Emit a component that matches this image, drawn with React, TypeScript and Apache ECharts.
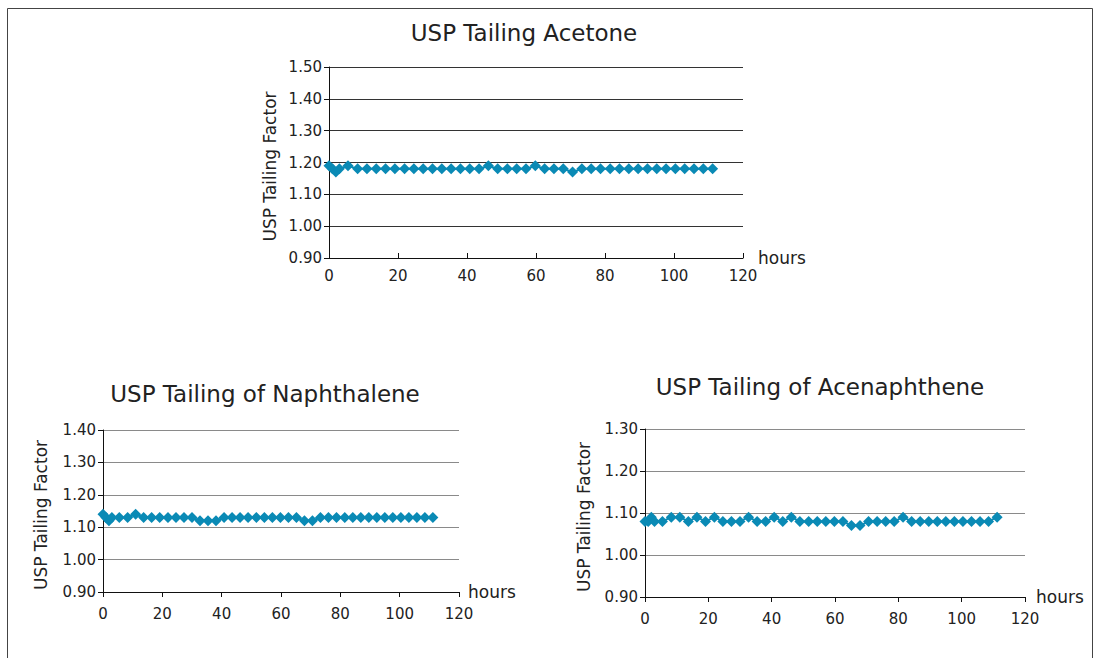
import React, { useEffect, useRef } from "react";
import * as echarts from "echarts";

const hours = [0, 1, 2, 3, 5.5, 8.3, 11.0, 13.7, 16.4, 19.1, 21.9, 24.6, 27.3, 30.0, 32.7, 35.4, 38.1, 40.8, 43.5, 46.2, 48.9, 51.7, 54.4, 57.1, 59.8, 62.5, 65.2, 67.9, 70.6, 73.3, 76.0, 78.7, 81.5, 84.2, 86.9, 89.6, 92.3, 95.0, 97.7, 100.4, 103.1, 105.8, 108.5, 111.2];

const acetone = [1.19, 1.18, 1.17, 1.18, 1.19,
  1.18, 1.18, 1.18, 1.18, 1.18, 1.18, 1.18, 1.18, 1.18, 1.18, 1.18, 1.18, 1.18, 1.18,
  1.19, 1.18, 1.18, 1.18, 1.18, 1.19, 1.18, 1.18, 1.18, 1.17,
  1.18, 1.18, 1.18, 1.18, 1.18, 1.18, 1.18, 1.18, 1.18, 1.18, 1.18, 1.18, 1.18, 1.18, 1.18];

const naphthalene = [1.14, 1.13, 1.12, 1.13, 1.13,
  1.13, 1.14, 1.13, 1.13, 1.13, 1.13, 1.13, 1.13, 1.13, 1.12, 1.12, 1.12,
  1.13, 1.13, 1.13, 1.13, 1.13, 1.13, 1.13, 1.13, 1.13, 1.13, 1.12, 1.12,
  1.13, 1.13, 1.13, 1.13, 1.13, 1.13, 1.13, 1.13, 1.13, 1.13, 1.13, 1.13, 1.13, 1.13, 1.13];

const acenaphthene = [1.08, 1.08, 1.09, 1.08, 1.08,
  1.09, 1.09, 1.08, 1.09, 1.08, 1.09, 1.08, 1.08, 1.08, 1.09, 1.08, 1.08, 1.09, 1.08, 1.09,
  1.08, 1.08, 1.08, 1.08, 1.08, 1.08, 1.07, 1.07, 1.08, 1.08, 1.08, 1.08, 1.09,
  1.08, 1.08, 1.08, 1.08, 1.08, 1.08, 1.08, 1.08, 1.08, 1.08, 1.09];

const titles = ["USP Tailing Acetone", "USP Tailing of Naphthalene", "USP Tailing of Acenaphthene"];
const yName = "USP Tailing Factor";
const xName = "hours";

const FONT = "'DejaVu Sans', Verdana, sans-serif";
const TXT = "#222";
const MARK = "#0a8ab5";

export default function App() {
  const ref = useRef<HTMLDivElement>(null);
  useEffect(() => {
    if (!ref.current) return;
    const chart = echarts.init(ref.current, null, { renderer: "svg" });
    const grids = [
      { left: 329, top: 67, width: 414, height: 191 },
      { left: 103, top: 430, width: 356, height: 162 },
      { left: 645, top: 429, width: 380, height: 168 },
    ];
    const yRanges = [[0.9, 1.5], [0.9, 1.4], [0.9, 1.3]];
    const splitColors = ["#333333", "#8a8a8a", "#8a8a8a"];
    const nameGaps = [51, 54, 53];
    const xNameGaps = [15, 9, 11];
    const xNamePadTop = [4, 12, 6];
    const xLabelMargins = [10, 14, 14];
    const xTickInside = [true, false, false];
    const seriesData = [acetone, naphthalene, acenaphthene];
    const titleCfg = [
      { x: 524, y: 21 },
      { x: 265, y: 382 },
      { x: 820, y: 375 },
    ];
    const option: any = {
      animation: false,
      textStyle: { fontFamily: FONT },
      title: titles.map((t, i) => ({
        text: t,
        left: titleCfg[i].x,
        top: titleCfg[i].y,
        textAlign: "center",
        padding: 0,
        textStyle: { fontFamily: FONT, fontSize: 23, fontWeight: "normal", color: TXT },
      })),
      grid: grids.map((g) => ({ ...g, containLabel: false })),
      xAxis: grids.map((_, i) => ({
        type: "value",
        gridIndex: i,
        min: 0,
        max: 120,
        interval: 20,
        name: xName,
        nameLocation: "end",
        nameGap: xNameGaps[i],
        nameTextStyle: { fontFamily: FONT, fontSize: 17, color: TXT, verticalAlign: "middle", padding: [xNamePadTop[i], 0, 0, 0] },
        axisLine: { show: true, lineStyle: { color: "#111", width: 1 } },
        axisTick: { show: true, inside: xTickInside[i], length: 5, lineStyle: { color: "#111" } },
        axisLabel: { fontFamily: FONT, fontSize: 15, color: TXT, margin: xLabelMargins[i] },
        splitLine: { show: false },
      })),
      yAxis: grids.map((_, i) => ({
        type: "value",
        gridIndex: i,
        min: yRanges[i][0],
        max: yRanges[i][1],
        interval: 0.1,
        name: yName,
        nameLocation: "middle",
        nameGap: nameGaps[i],
        nameRotate: 90,
        nameTextStyle: { fontFamily: FONT, fontSize: 17, color: TXT, padding: [0, 8, 0, 0] },
        axisLine: { show: true, lineStyle: { color: "#111", width: 1 } },
        axisTick: { show: true, inside: false, length: 5, lineStyle: { color: "#111" } },
        axisLabel: {
          fontFamily: FONT,
          fontSize: 15,
          color: TXT,
          margin: 7,
          formatter: (v: number) => v.toFixed(2),
        },
        splitLine: { show: true, lineStyle: { color: splitColors[i], width: 1 } },
      })),
      series: seriesData.map((vals, i) => ({
        type: "line",
        xAxisIndex: i,
        yAxisIndex: i,
        data: hours.map((h, j) => [h, vals[j]]),
        symbol: "diamond",
        symbolSize: [11, 11],
        showSymbol: true,
        lineStyle: { color: MARK, width: 2 },
        itemStyle: { color: MARK, borderWidth: 0 },
        z: 3,
      })),
      graphic: [
        {
          type: "rect",
          shape: { x: 7.5, y: 8.5, width: 1085, height: 700 },
          style: { fill: "none", stroke: "#444", lineWidth: 1 },
          silent: true,
        },
      ],
    };
    chart.setOption(option);
    return () => chart.dispose();
  }, []);
  return (
    <div
      ref={ref}
      style={{ position: "absolute", left: 0, top: 0, width: 1100, height: 658, background: "#fff" }}
    />
  );
}
